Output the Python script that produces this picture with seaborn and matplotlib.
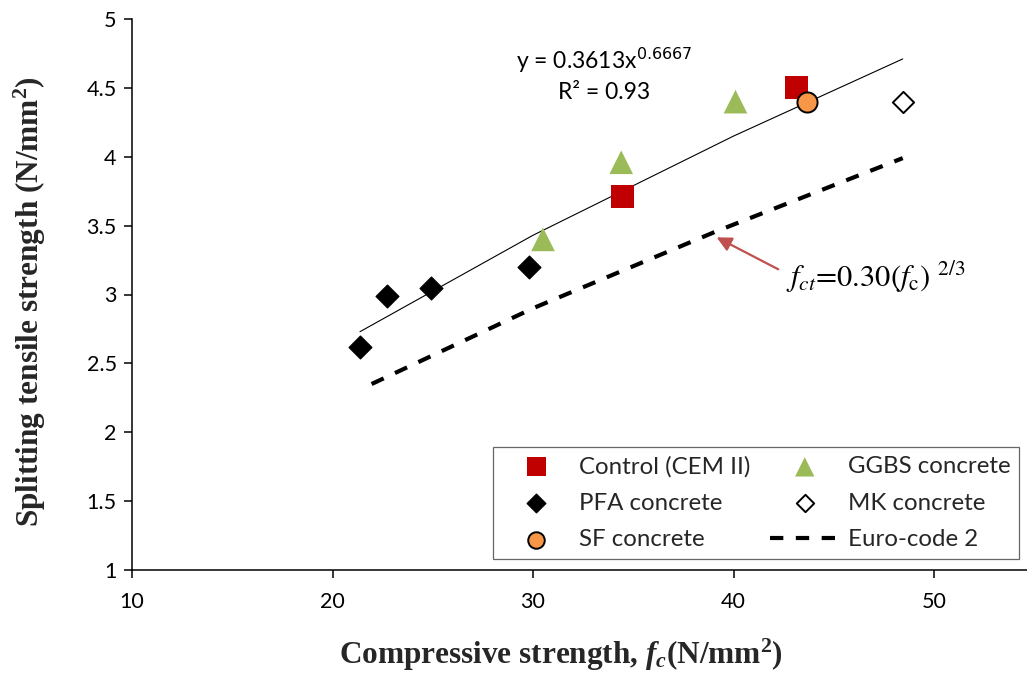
import matplotlib
matplotlib.use("Agg")
import matplotlib.pyplot as plt
import seaborn as sns
import pandas as pd

# ---- data ----
control_x = [34.45, 43.15]
control_y = [3.71, 4.50]
ggbs_x = [30.5, 34.4, 40.1]
ggbs_y = [3.40, 3.96, 4.40]
pfa_x = [21.35, 22.7, 24.9, 29.8]
pfa_y = [2.62, 2.99, 3.05, 3.20]
sf_x = [43.65]
sf_y = [4.40]
mk_x = [48.45]
mk_y = [4.40]
trend_x = [21.37, 30.0, 40.0, 48.44]
trend_y = [2.73, 3.43, 4.15, 4.71]
ec2_x = [21.95, 30.0, 39.1, 48.44]
ec2_y = [2.35, 2.90, 3.456, 3.99]
x_ticks = [10, 20, 30, 40, 50]
y_ticks = [1, 1.5, 2, 2.5, 3, 3.5, 4, 4.5, 5]
y_tick_labels = ["1", "1.5", "2", "2.5", "3", "3.5", "4", "4.5", "5"]

sns.set_theme(style="white")
plt.rcParams["font.family"] = ["Lato", "DejaVu Sans"]
plt.rcParams["mathtext.fontset"] = "custom"
plt.rcParams["mathtext.rm"] = "Liberation Serif:bold"
plt.rcParams["mathtext.it"] = "Liberation Serif:italic:bold"
plt.rcParams["mathtext.bf"] = "Liberation Serif:bold"

fig = plt.figure(figsize=(10.27, 6.77), dpi=100)
ax = fig.add_axes([132 / 1027, 107 / 677, 895 / 1027, 551 / 677])

# lines
sns.lineplot(x=trend_x, y=trend_y, ax=ax, color="black", linewidth=0.8,
             sort=False, estimator=None, legend=False)
ec = pd.DataFrame({"x": ec2_x, "y": ec2_y})
sns.lineplot(data=ec, x="x", y="y", ax=ax, color="black", linewidth=3.0,
             sort=False, estimator=None, label="Euro-code 2")
ax.lines[-1].set_dashes((3.2, 3.0))

# markers
sns.scatterplot(x=control_x, y=control_y, ax=ax, marker="s", s=16.6 ** 2,
                color="#C00000", edgecolor="none", label="Control (CEM II)", zorder=3)
sns.scatterplot(x=ggbs_x, y=ggbs_y, ax=ax, marker="^", s=17 ** 2,
                color="#9BBB59", edgecolor="none", label="GGBS concrete", zorder=3)
sns.scatterplot(x=pfa_x, y=pfa_y, ax=ax, marker="D", s=11.6 ** 2,
                color="black", edgecolor="black", label="PFA concrete", zorder=3)
sns.scatterplot(x=mk_x, y=mk_y, ax=ax, marker="D", s=10.8 ** 2,
                color="white", edgecolor="black", linewidth=1.4,
                label="MK concrete", zorder=3)
sns.scatterplot(x=sf_x, y=sf_y, ax=ax, marker="o", s=14.5 ** 2,
                color="#F79646", edgecolor="black", linewidth=1.4,
                label="SF concrete", zorder=4)

ax.set_xlim(10, 10 + 895 / 20.05)
ax.set_ylim(1, 5)
ax.set_xticks(x_ticks)
ax.set_xticklabels([str(t) for t in x_ticks])
ax.set_yticks(y_ticks)
ax.set_yticklabels(y_tick_labels)
ax.tick_params(axis="both", direction="out", length=6, width=1.1, color="black",
               labelsize=15.5, labelcolor="black", bottom=True, left=True, pad=5)
ax.tick_params(axis="x", pad=10)
for s in ["top", "right"]:
    ax.spines[s].set_visible(False)
for s in ["left", "bottom"]:
    ax.spines[s].set_color("black")
    ax.spines[s].set_linewidth(1.1)

ax.set_xlabel("Compressive strength, $f_c$(N/mm$^2$)", family="Liberation Serif",
              fontweight="bold", fontsize=22.5)
ax.set_ylabel("Splitting tensile strength (N/mm$^2$)", family="Liberation Serif",
              fontweight="bold", fontsize=22.5)
ax.xaxis.label.set_verticalalignment("center")
ax.xaxis.set_label_coords(0.479, -0.154)
ax.yaxis.label.set_verticalalignment("center")
ax.yaxis.set_label_coords(-0.114, 0.488)

# equation
ax.text(33.54, 4.70, "y = 0.3613x$^{0.6667}$", ha="center", va="center", fontsize=16.5,
        color="black", math_fontfamily="dejavusans")
ax.text(33.54, 4.463, "R² = 0.93", ha="center", va="center", fontsize=16.5, color="black")

# Eurocode annotation
ax.annotate("", xy=(39.16, 3.415), xytext=(42.23, 3.183),
            arrowprops=dict(arrowstyle="-|>", color="#C0504D", lw=1.6, mutation_scale=22,
                            shrinkA=0, shrinkB=0))
ax.text(42.6, 3.13, r"$f_{ct}$=0.30($f_{\rm c}$) $^{2/3}$", ha="left", va="center",
        fontsize=22, family="STIXGeneral", math_fontfamily="stix", color="black")

# legend
handles, labels = ax.get_legend_handles_labels()
hmap = dict(zip(labels, handles))
order = ["Control (CEM II)", "PFA concrete", "SF concrete",
         "GGBS concrete", "MK concrete", "Euro-code 2"]
leg = ax.legend([hmap[k] for k in order], order, ncol=2, loc="upper left",
                bbox_to_anchor=((492.8 - 132) / 895, (570 - 447) / 551),
                fontsize=17.3, frameon=True, fancybox=False, edgecolor="#404040",
                markerscale=0.82, handlelength=2.9, handletextpad=0.34,
                columnspacing=0.8, borderpad=0.36, labelspacing=0.64,
                borderaxespad=0)
leg.get_frame().set_linewidth(0.9)

fig.savefig("out.png", dpi=100)
